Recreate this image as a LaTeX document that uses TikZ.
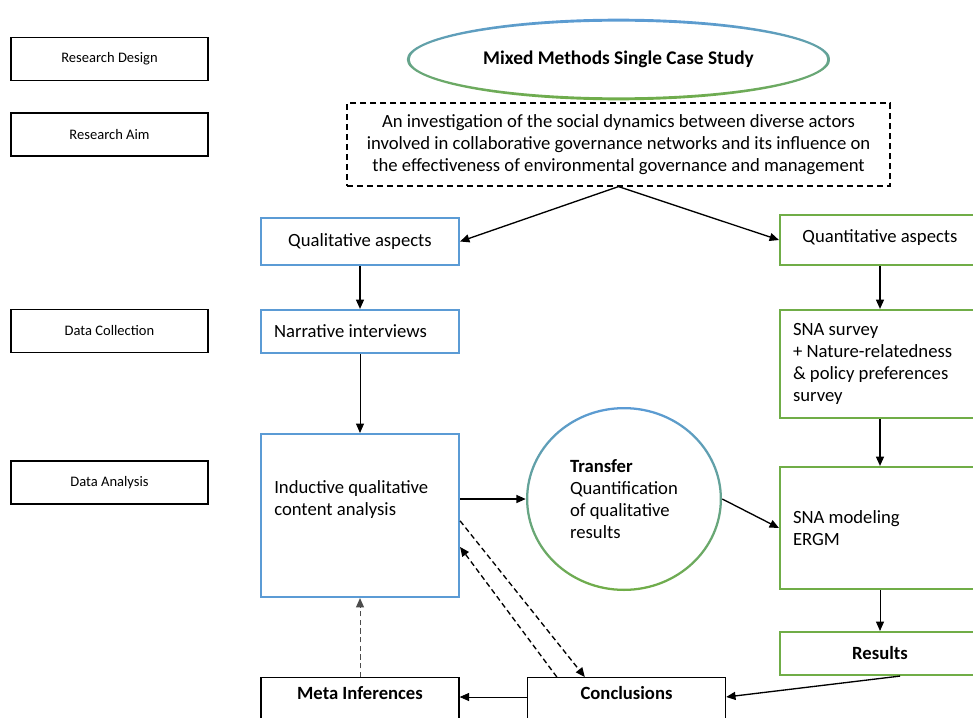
\documentclass[tikz,border=0pt]{standalone}
\usepackage{fontspec}
\setmainfont{Carlito}
\usetikzlibrary{arrows.meta,shapes.geometric}
\definecolor{azul}{HTML}{5B9BD5}
\definecolor{verde}{HTML}{70AD47}
\tikzset{
  etiq/.style={draw=black, line width=0.9pt, minimum width=147.75pt, minimum height=32.25pt, font=\fontsize{10.9}{13}\selectfont},
  cual/.style={draw=azul, line width=1.6pt, minimum width=148.5pt},
  cualizq/.style={cual, align=flush left, inner xsep=9.75pt, text width=129pt},
  cuant/.style={draw=verde, line width=1.6pt, minimum width=150pt},
  cuantizq/.style={cuant, align=flush left, inner xsep=9.75pt, text width=130.5pt},
  fin/.style={draw=black, line width=1pt, anchor=north, minimum width=148.5pt, inner ysep=6.5pt, text height=9.5pt, text depth=30pt, font=\fontsize{14}{16.5}\selectfont\bfseries},
  flecha/.style={-{Triangle[length=7pt,width=6pt]}, line width=1pt},
  guion/.style={flecha, dash pattern=on 4pt off 2.5pt}
}
\begin{document}
\begin{tikzpicture}[x=0.75pt, y=-0.75pt, font=\fontsize{14}{16.5}\selectfont]
  \useasboundingbox (0,0) rectangle (973,717);
  \clip (0,0) rectangle (973,717);

  % Etiquetas de la izquierda
  \node[etiq] (disenio) at (109.5,59) {Research Design};
  \node[etiq] (objetivo) at (109.5,134.5) {Research Aim};
  \node[etiq] (recoleccion) at (109.5,331) {Data Collection};
  \node[etiq] (analisis) at (109.5,482.5) {Data Analysis};

  % Diseno
  \node[ellipse, minimum width=317.25pt, minimum height=60.75pt, font=\fontsize{14.5}{16}\selectfont\bfseries] (metodo) at (618.5,59.5) {Mixed Methods Single Case Study};
  \shade[top color=azul, bottom color=verde, even odd rule] (metodo.center) ellipse [x radius=158.8pt, y radius=30.6pt] (metodo.center) ellipse [x radius=156.6pt, y radius=28.4pt];

  % Objetivo
  \node[draw, line width=0.9pt, dash pattern=on 4.5pt off 3pt, minimum width=407.25pt, minimum height=62.25pt, align=center] (aim) at (618.5,144.5) {An investigation of the social dynamics between diverse actors\\involved in collaborative governance networks and its influence on\\the effectiveness of environmental governance and management};

  % Rama cualitativa
  \node[cual, minimum height=35.25pt] (cuali) at (360,241.5) {Qualitative aspects};
  \node[cualizq, minimum height=32.25pt] (narr) at (360,331.5) {Narrative interviews};
  \node[cual, minimum height=122.25pt] (induc) at (360,515.5) {};
  \node[anchor=west, align=left, inner sep=0pt] (inductxt) at (274,500) {Inductive qualitative\\content analysis};

  % Rama cuantitativa
  \node[cuant, minimum height=37.5pt, text depth=6pt] (cuanti) at (880,240) {Quantitative aspects};
  \node[cuantizq, minimum height=81pt] (encuesta) at (880,364) {SNA survey\\+ Nature-relatedness\\\& policy preferences\\survey};
  \node[cuantizq, minimum height=91.5pt] (modelo) at (880,528) {SNA modeling\\ERGM};
  \node[cuant, minimum height=32.25pt, font=\fontsize{14}{16.5}\selectfont\bfseries] (result) at (880,653.5) {Results};

  % Transferencia
  \node[ellipse, minimum width=147pt, minimum height=138pt, align=left] (transf) at (624,499) {\textbf{Transfer}\\Quantification\\of qualitative\\results};
  \shade[top color=azul, bottom color=verde, even odd rule] (transf.center) ellipse [x radius=73.5pt, y radius=69pt] (transf.center) ellipse [x radius=71.8pt, y radius=67.3pt];

  % Cierre
  \node[fin] (meta) at (360,677) {Meta Inferences};
  \node[fin] (concl) at (626.5,677) {Conclusions};

  % Flechas
  \draw[flecha] (aim.south) -- (cuali.east);
  \draw[flecha] (aim.south) -- (cuanti.west);
  \draw[flecha] (cuali) -- (narr);
  \draw[flecha] (cuanti) -- (encuesta);
  \draw[flecha, line width=0.6pt] (narr) -- (induc);
  \draw[flecha] (transf.west -| induc.east) -- (transf.west);
  \draw[flecha] (transf.east) -- (modelo.west);
  \draw[flecha] (encuesta) -- (modelo);
  \draw[flecha, line width=0.6pt] (modelo) -- (result);
  \draw[flecha] ([xshift=15pt]result.south) -- ([yshift=-15pt]concl.north east);
  \draw[flecha, line width=0.6pt] ([yshift=-15pt]concl.north west) -- ([yshift=-15pt]meta.north east);
  \draw[guion, draw=black!70, line width=0.7pt] (meta.north) -- (induc.south);
  \draw[guion] ([yshift=-4pt]induc.east) -- ([xshift=43.5pt]concl.north west);
  \draw[guion] ([xshift=22.5pt]concl.north west) -- ([yshift=-23.6pt]induc.east);
\end{tikzpicture}
\end{document}
